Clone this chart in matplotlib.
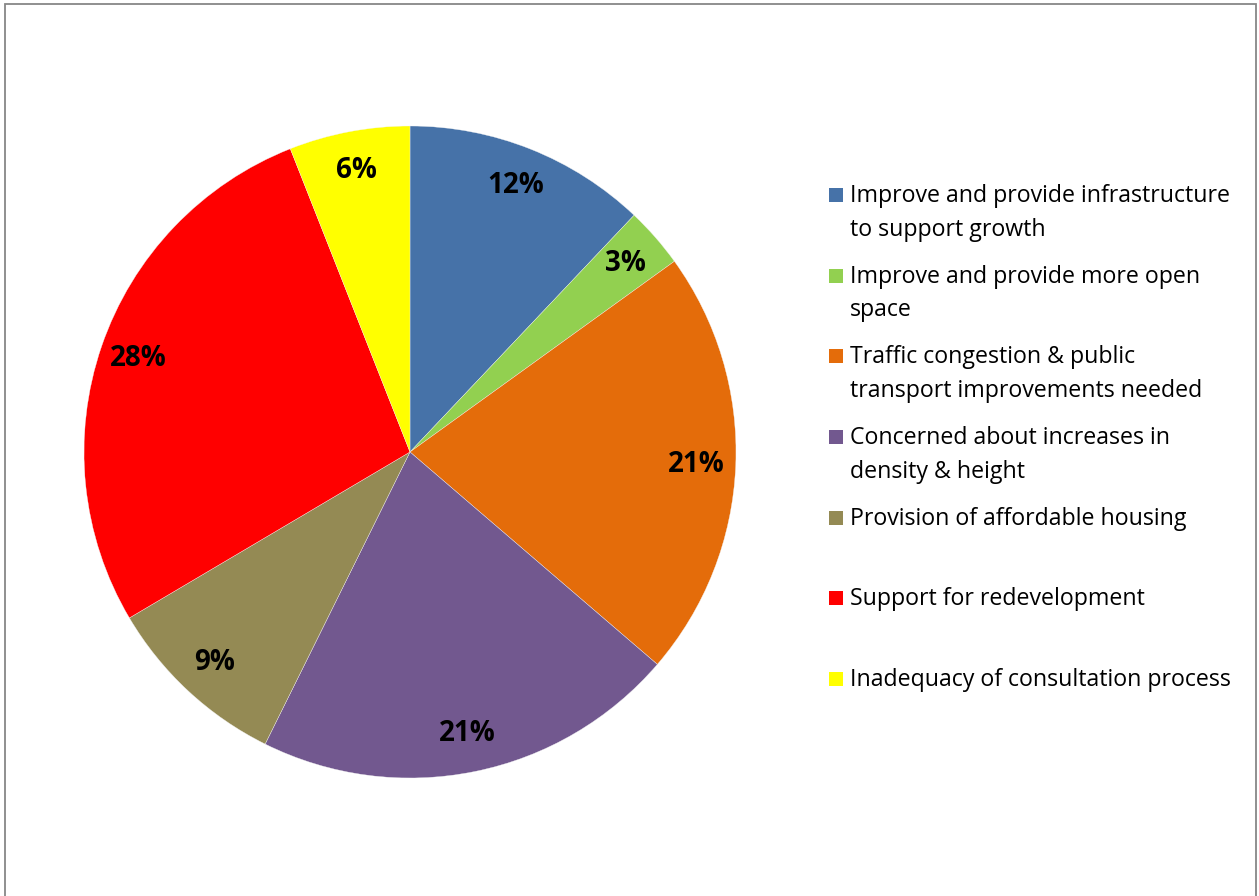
import matplotlib.pyplot as plt
from matplotlib.patches import Rectangle

categories = [
    "Improve and provide infrastructure\nto support growth",
    "Improve and provide more open\nspace",
    "Traffic congestion & public\ntransport improvements needed",
    "Concerned about increases in\ndensity & height",
    "Provision of affordable housing",
    "Support for redevelopment",
    "Inadequacy of consultation process",
]
shares = [12.1, 3.0, 21.3, 21.1, 9.2, 27.6, 6.0]
colours = ["#4672A8", "#92D050", "#E46C0A", "#72588F", "#948A54", "#FF0000", "#FFFF00"]

W, H = 1259, 896
fig = plt.figure(figsize=(W / 100, H / 100), dpi=100, facecolor="white")
plt.rcParams["font.family"] = ["Open Sans", "DejaVu Sans"]

# grey outer frame (bottom edge is cut off in the original)
fig.patches.append(Rectangle((5 / W, -0.02), 1251 / W, (H - 4.5) / H + 0.02,
                             transform=fig.transFigure, fill=False,
                             edgecolor="#878787", linewidth=1.3))

# pie, centre (410, 452) px, radius 326 px
cx, cy, r = 410, 452, 326
ax = fig.add_axes([(cx - r) / W, (H - cy - r) / H, 2 * r / W, 2 * r / H])
wedges, texts, autotexts = ax.pie(
    shares, colors=colours, startangle=90, counterclock=False,
    autopct="%.0f%%", pctdistance=0.88,
    wedgeprops=dict(edgecolor="#f4f4f4", linewidth=0.25),
    textprops=dict(fontsize=20, fontweight="bold", color="black"))
ax.set_xlim(-1, 1)
ax.set_ylim(-1, 1)
ax.set_aspect("equal")
ax.axis("off")

# legend drawn by hand, Excel style: one line of 81 px per entry
y0, step, lh = 202, 80.67, 33.5
for i, (lab, col) in enumerate(zip(categories, colours)):
    base = y0 + step * i
    fig.patches.append(Rectangle((829 / W, (H - base) / H), 14 / W, 14 / H,
                                 transform=fig.transFigure, facecolor=col,
                                 edgecolor="none"))
    for j, line in enumerate(lab.split("\n")):
        fig.text(850 / W, (H - base - lh * j) / H, line, fontsize=16.7,
                 va="baseline", ha="left", color="black")

fig.savefig("out.png", dpi=100, facecolor="white")
